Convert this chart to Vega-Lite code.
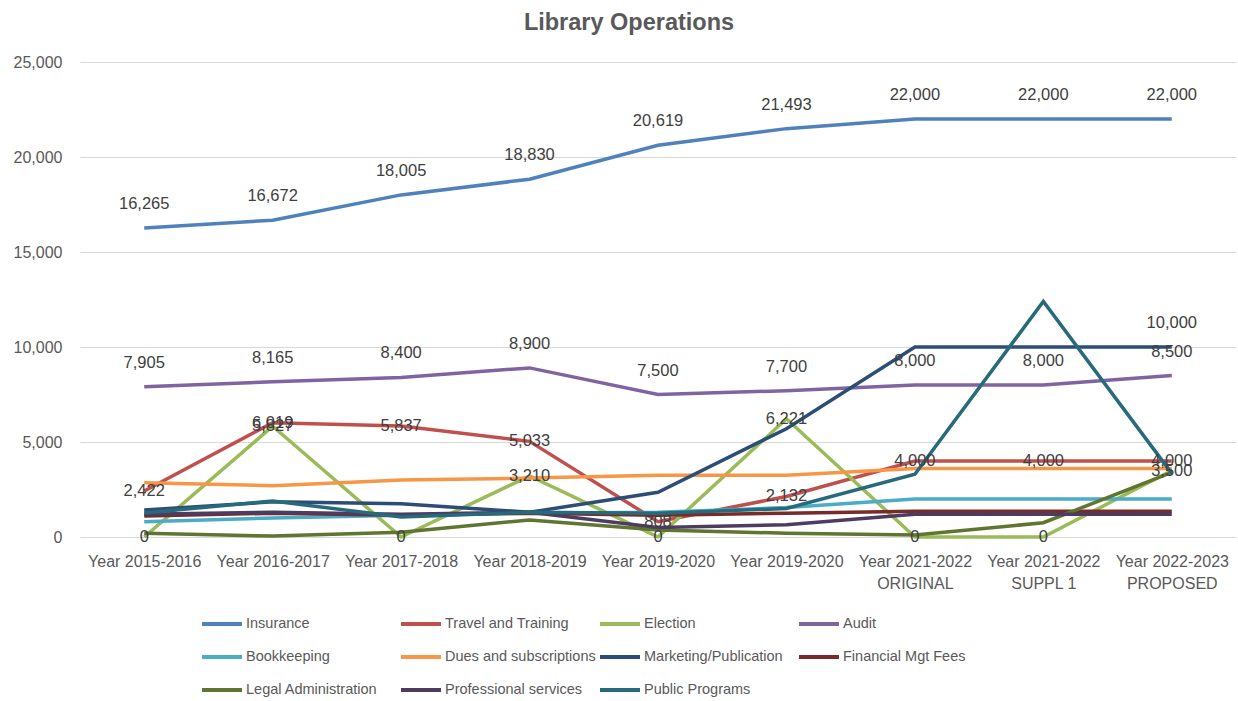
{
  "$schema": "https://vega.github.io/schema/vega-lite/v6.json",
  "width": 1156,
  "height": 475,
  "autosize": {"type": "none"},
  "padding": {"left": 80, "top": 62, "right": 2, "bottom": 164},
  "background": "white",
  "title": {"text": "Library Operations", "fontSize": 23.5, "fontWeight": "bold", "color": "#595959", "font": "Liberation Sans", "dx": -29, "offset": 20, "anchor": "middle"},
  "config": {"view": {"stroke": null}, "font": "Liberation Sans"},
  "data": {"values": [
    {"series": "Insurance", "period": "Year 2015-2016", "value": 16265},
    {"series": "Insurance", "period": "Year 2016-2017", "value": 16672},
    {"series": "Insurance", "period": "Year 2017-2018", "value": 18005},
    {"series": "Insurance", "period": "Year 2018-2019", "value": 18830},
    {"series": "Insurance", "period": "Year 2019-2020", "value": 20619},
    {"series": "Insurance", "period": "Year 2019-2020|", "value": 21493},
    {"series": "Insurance", "period": "Year 2021-2022|ORIGINAL", "value": 22000},
    {"series": "Insurance", "period": "Year 2021-2022|SUPPL 1", "value": 22000},
    {"series": "Insurance", "period": "Year 2022-2023|PROPOSED", "value": 22000},
    {"series": "Travel and Training", "period": "Year 2015-2016", "value": 2422},
    {"series": "Travel and Training", "period": "Year 2016-2017", "value": 6019},
    {"series": "Travel and Training", "period": "Year 2017-2018", "value": 5837},
    {"series": "Travel and Training", "period": "Year 2018-2019", "value": 5033},
    {"series": "Travel and Training", "period": "Year 2019-2020", "value": 808},
    {"series": "Travel and Training", "period": "Year 2019-2020|", "value": 2132},
    {"series": "Travel and Training", "period": "Year 2021-2022|ORIGINAL", "value": 4000},
    {"series": "Travel and Training", "period": "Year 2021-2022|SUPPL 1", "value": 4000},
    {"series": "Travel and Training", "period": "Year 2022-2023|PROPOSED", "value": 4000},
    {"series": "Election", "period": "Year 2015-2016", "value": 0},
    {"series": "Election", "period": "Year 2016-2017", "value": 5827},
    {"series": "Election", "period": "Year 2017-2018", "value": 0},
    {"series": "Election", "period": "Year 2018-2019", "value": 3210},
    {"series": "Election", "period": "Year 2019-2020", "value": 0},
    {"series": "Election", "period": "Year 2019-2020|", "value": 6221},
    {"series": "Election", "period": "Year 2021-2022|ORIGINAL", "value": 0},
    {"series": "Election", "period": "Year 2021-2022|SUPPL 1", "value": 0},
    {"series": "Election", "period": "Year 2022-2023|PROPOSED", "value": 3500},
    {"series": "Audit", "period": "Year 2015-2016", "value": 7905},
    {"series": "Audit", "period": "Year 2016-2017", "value": 8165},
    {"series": "Audit", "period": "Year 2017-2018", "value": 8400},
    {"series": "Audit", "period": "Year 2018-2019", "value": 8900},
    {"series": "Audit", "period": "Year 2019-2020", "value": 7500},
    {"series": "Audit", "period": "Year 2019-2020|", "value": 7700},
    {"series": "Audit", "period": "Year 2021-2022|ORIGINAL", "value": 8000},
    {"series": "Audit", "period": "Year 2021-2022|SUPPL 1", "value": 8000},
    {"series": "Audit", "period": "Year 2022-2023|PROPOSED", "value": 8500},
    {"series": "Bookkeeping", "period": "Year 2015-2016", "value": 800},
    {"series": "Bookkeeping", "period": "Year 2016-2017", "value": 1000},
    {"series": "Bookkeeping", "period": "Year 2017-2018", "value": 1150},
    {"series": "Bookkeeping", "period": "Year 2018-2019", "value": 1250},
    {"series": "Bookkeeping", "period": "Year 2019-2020", "value": 1300},
    {"series": "Bookkeeping", "period": "Year 2019-2020|", "value": 1550},
    {"series": "Bookkeeping", "period": "Year 2021-2022|ORIGINAL", "value": 2000},
    {"series": "Bookkeeping", "period": "Year 2021-2022|SUPPL 1", "value": 2000},
    {"series": "Bookkeeping", "period": "Year 2022-2023|PROPOSED", "value": 2000},
    {"series": "Dues and subscriptions", "period": "Year 2015-2016", "value": 2850},
    {"series": "Dues and subscriptions", "period": "Year 2016-2017", "value": 2700},
    {"series": "Dues and subscriptions", "period": "Year 2017-2018", "value": 3000},
    {"series": "Dues and subscriptions", "period": "Year 2018-2019", "value": 3100},
    {"series": "Dues and subscriptions", "period": "Year 2019-2020", "value": 3250},
    {"series": "Dues and subscriptions", "period": "Year 2019-2020|", "value": 3250},
    {"series": "Dues and subscriptions", "period": "Year 2021-2022|ORIGINAL", "value": 3600},
    {"series": "Dues and subscriptions", "period": "Year 2021-2022|SUPPL 1", "value": 3600},
    {"series": "Dues and subscriptions", "period": "Year 2022-2023|PROPOSED", "value": 3600},
    {"series": "Marketing/Publication", "period": "Year 2015-2016", "value": 1420},
    {"series": "Marketing/Publication", "period": "Year 2016-2017", "value": 1850},
    {"series": "Marketing/Publication", "period": "Year 2017-2018", "value": 1750},
    {"series": "Marketing/Publication", "period": "Year 2018-2019", "value": 1300},
    {"series": "Marketing/Publication", "period": "Year 2019-2020", "value": 2350},
    {"series": "Marketing/Publication", "period": "Year 2019-2020|", "value": 5700},
    {"series": "Marketing/Publication", "period": "Year 2021-2022|ORIGINAL", "value": 10000},
    {"series": "Marketing/Publication", "period": "Year 2021-2022|SUPPL 1", "value": 10000},
    {"series": "Marketing/Publication", "period": "Year 2022-2023|PROPOSED", "value": 10000},
    {"series": "Financial Mgt Fees", "period": "Year 2015-2016", "value": 1100},
    {"series": "Financial Mgt Fees", "period": "Year 2016-2017", "value": 1250},
    {"series": "Financial Mgt Fees", "period": "Year 2017-2018", "value": 1150},
    {"series": "Financial Mgt Fees", "period": "Year 2018-2019", "value": 1250},
    {"series": "Financial Mgt Fees", "period": "Year 2019-2020", "value": 1150},
    {"series": "Financial Mgt Fees", "period": "Year 2019-2020|", "value": 1250},
    {"series": "Financial Mgt Fees", "period": "Year 2021-2022|ORIGINAL", "value": 1350},
    {"series": "Financial Mgt Fees", "period": "Year 2021-2022|SUPPL 1", "value": 1350},
    {"series": "Financial Mgt Fees", "period": "Year 2022-2023|PROPOSED", "value": 1350},
    {"series": "Legal Administration", "period": "Year 2015-2016", "value": 200},
    {"series": "Legal Administration", "period": "Year 2016-2017", "value": 50},
    {"series": "Legal Administration", "period": "Year 2017-2018", "value": 250},
    {"series": "Legal Administration", "period": "Year 2018-2019", "value": 900},
    {"series": "Legal Administration", "period": "Year 2019-2020", "value": 370},
    {"series": "Legal Administration", "period": "Year 2019-2020|", "value": 200},
    {"series": "Legal Administration", "period": "Year 2021-2022|ORIGINAL", "value": 100},
    {"series": "Legal Administration", "period": "Year 2021-2022|SUPPL 1", "value": 750},
    {"series": "Legal Administration", "period": "Year 2022-2023|PROPOSED", "value": 3400},
    {"series": "Professional services", "period": "Year 2015-2016", "value": 1200},
    {"series": "Professional services", "period": "Year 2016-2017", "value": 1300},
    {"series": "Professional services", "period": "Year 2017-2018", "value": 1200},
    {"series": "Professional services", "period": "Year 2018-2019", "value": 1300},
    {"series": "Professional services", "period": "Year 2019-2020", "value": 500},
    {"series": "Professional services", "period": "Year 2019-2020|", "value": 650},
    {"series": "Professional services", "period": "Year 2021-2022|ORIGINAL", "value": 1200},
    {"series": "Professional services", "period": "Year 2021-2022|SUPPL 1", "value": 1200},
    {"series": "Professional services", "period": "Year 2022-2023|PROPOSED", "value": 1200},
    {"series": "Public Programs", "period": "Year 2015-2016", "value": 1260},
    {"series": "Public Programs", "period": "Year 2016-2017", "value": 1900},
    {"series": "Public Programs", "period": "Year 2017-2018", "value": 1050},
    {"series": "Public Programs", "period": "Year 2018-2019", "value": 1300},
    {"series": "Public Programs", "period": "Year 2019-2020", "value": 1250},
    {"series": "Public Programs", "period": "Year 2019-2020|", "value": 1500},
    {"series": "Public Programs", "period": "Year 2021-2022|ORIGINAL", "value": 3300},
    {"series": "Public Programs", "period": "Year 2021-2022|SUPPL 1", "value": 12400},
    {"series": "Public Programs", "period": "Year 2022-2023|PROPOSED", "value": 3350}
  ]},
  "encoding": {
    "x": {"field": "period", "type": "ordinal", "sort": null,
      "scale": {"padding": 0.5},
      "axis": {"title": null, "labelAngle": 0, "domain": false, "ticks": false, "grid": false,
        "labelExpr": "split(datum.label, '|')", "labelFontSize": 16, "labelColor": "#595959",
        "labelPadding": 16, "labelLineHeight": 22, "labelBaseline": "top"}},
    "y": {"field": "value", "type": "quantitative",
      "scale": {"domain": [0, 25000], "nice": false},
      "axis": {"title": null, "values": [0, 5000, 10000, 15000, 20000, 25000], "format": ",d",
        "domain": false, "ticks": false, "gridColor": "#D9D9D9", "gridWidth": 1,
        "labelPadding": 18, "labelFontSize": 16, "labelColor": "#595959"}}
  },
  "layer": [
    {"mark": {"type": "line", "strokeWidth": 3.5},
     "encoding": {"color": {"field": "series", "type": "nominal",
       "sort": ["Insurance", "Travel and Training", "Election", "Audit", "Bookkeeping", "Dues and subscriptions", "Marketing/Publication", "Financial Mgt Fees", "Legal Administration", "Professional services", "Public Programs"],
       "scale": {"domain": ["Insurance", "Travel and Training", "Election", "Audit", "Bookkeeping", "Dues and subscriptions", "Marketing/Publication", "Financial Mgt Fees", "Legal Administration", "Professional services", "Public Programs"],
         "range": ["#4F81BD", "#C0504D", "#9BBB59", "#8064A2", "#4BACC6", "#F79646", "#2C4D75", "#772C2A", "#5F7530", "#4D3B62", "#276A7C"]},
       "legend": {"title": null, "orient": "none", "legendX": 120, "legendY": 540, "direction": "horizontal", "columns": 4,
         "symbolType": "stroke", "symbolSize": 1600, "symbolStrokeWidth": 4, "labelFontSize": 14.5, "labelColor": "#595959",
         "labelOffset": 2, "columnPadding": -4, "rowPadding": 3, "padding": 0, "gridAlign": "all"}}}},
    {"mark": {"type": "text", "dy": -24, "fontSize": 16.5, "color": "#404040"},
     "transform": [{"filter": "datum.series == 'Insurance' || datum.series == 'Audit' || (datum.series == 'Marketing/Publication' && datum.period == 'Year 2022-2023|PROPOSED')"}],
     "encoding": {"text": {"field": "value", "type": "quantitative", "format": ",d"}}},
    {"mark": {"type": "text", "fontSize": 16.5, "color": "#404040"},
     "transform": [{"filter": "datum.series == 'Travel and Training' || datum.series == 'Election'"}],
     "encoding": {"text": {"field": "value", "type": "quantitative", "format": ",d"}}}
  ]
}
